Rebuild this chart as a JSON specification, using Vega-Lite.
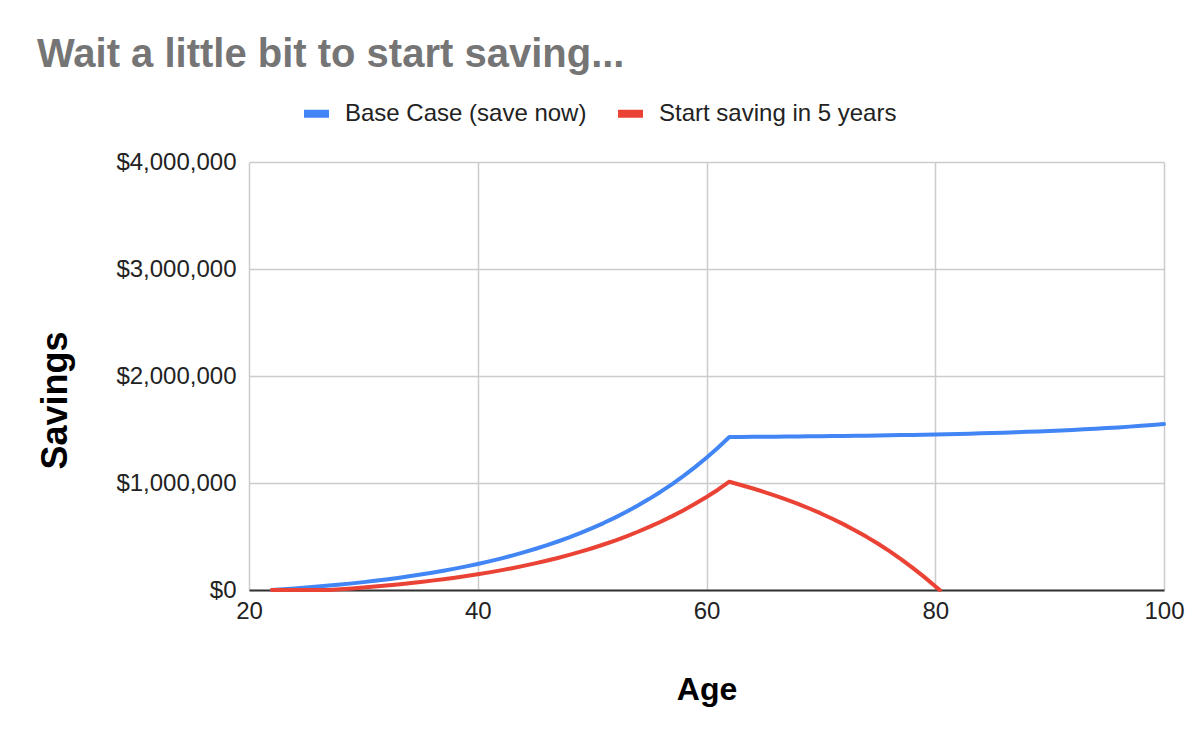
{
  "$schema": "https://vega.github.io/schema/vega-lite/v6.json",
  "width": 915,
  "height": 428,
  "autosize": {"type": "none"},
  "padding": {"left": 249, "top": 162, "right": 38, "bottom": 154},
  "background": "white",
  "config": {
    "view": {"stroke": null},
    "font": "Liberation Sans"
  },
  "title": {
    "text": "Wait a little bit to start saving...",
    "anchor": "start",
    "dx": 0,
    "offset": -10,
    "baseline": "alphabetic",
    "fontSize": 40,
    "fontWeight": "bold",
    "color": "#757575"
  },
  "data": {
    "values": [
      {"age": 22, "base": 0, "late": 0},
      {"age": 23, "base": 7200, "late": 0},
      {"age": 24, "base": 14800, "late": 0},
      {"age": 25, "base": 23000, "late": 0},
      {"age": 26, "base": 31800, "late": 0},
      {"age": 27, "base": 41200, "late": 0},
      {"age": 28, "base": 51200, "late": 7300},
      {"age": 29, "base": 62000, "late": 15100},
      {"age": 30, "base": 73500, "late": 23500},
      {"age": 31, "base": 85800, "late": 32400},
      {"age": 32, "base": 99000, "late": 42000},
      {"age": 33, "base": 113100, "late": 52300},
      {"age": 34, "base": 128100, "late": 63200},
      {"age": 35, "base": 144300, "late": 75000},
      {"age": 36, "base": 161500, "late": 87500},
      {"age": 37, "base": 180000, "late": 101000},
      {"age": 38, "base": 199700, "late": 115400},
      {"age": 39, "base": 220900, "late": 130700},
      {"age": 40, "base": 243500, "late": 147200},
      {"age": 41, "base": 267700, "late": 164800},
      {"age": 42, "base": 293600, "late": 183600},
      {"age": 43, "base": 321400, "late": 203800},
      {"age": 44, "base": 351000, "late": 225400},
      {"age": 45, "base": 382800, "late": 248500},
      {"age": 46, "base": 416700, "late": 273200},
      {"age": 47, "base": 453100, "late": 299600},
      {"age": 48, "base": 491900, "late": 327900},
      {"age": 49, "base": 533500, "late": 358100},
      {"age": 50, "base": 578000, "late": 390500},
      {"age": 51, "base": 625700, "late": 425200},
      {"age": 52, "base": 676600, "late": 462200},
      {"age": 53, "base": 731200, "late": 501900},
      {"age": 54, "base": 789500, "late": 544300},
      {"age": 55, "base": 851900, "late": 589700},
      {"age": 56, "base": 918700, "late": 638300},
      {"age": 57, "base": 990200, "late": 690300},
      {"age": 58, "base": 1066700, "late": 745900},
      {"age": 59, "base": 1148500, "late": 805500},
      {"age": 60, "base": 1236100, "late": 869200},
      {"age": 61, "base": 1329800, "late": 937300},
      {"age": 62, "base": 1430000, "late": 1012000},
      {"age": 63, "base": 1430700, "late": 981300},
      {"age": 64, "base": 1431100, "late": 950600},
      {"age": 65, "base": 1432300, "late": 917700},
      {"age": 66, "base": 1433100, "late": 882600},
      {"age": 67, "base": 1434000, "late": 844900},
      {"age": 68, "base": 1435000, "late": 804700},
      {"age": 69, "base": 1436100, "late": 761600},
      {"age": 70, "base": 1437200, "late": 715500},
      {"age": 71, "base": 1438400, "late": 666200},
      {"age": 72, "base": 1439700, "late": 613400},
      {"age": 73, "base": 1441000, "late": 557000},
      {"age": 74, "base": 1442500, "late": 496600},
      {"age": 75, "base": 1444100, "late": 431900},
      {"age": 76, "base": 1445800, "late": 362800},
      {"age": 77, "base": 1447600, "late": 288800},
      {"age": 78, "base": 1449500, "late": 209600},
      {"age": 79, "base": 1451600, "late": 124900},
      {"age": 80, "base": 1453800, "late": 34200},
      {"age": 80.4, "base": null, "late": 0},
      {"age": 81, "base": 1456200, "late": null},
      {"age": 82, "base": 1458700, "late": null},
      {"age": 83, "base": 1461400, "late": null},
      {"age": 84, "base": 1464300, "late": null},
      {"age": 85, "base": 1467400, "late": null},
      {"age": 86, "base": 1470700, "late": null},
      {"age": 87, "base": 1474300, "late": null},
      {"age": 88, "base": 1478100, "late": null},
      {"age": 89, "base": 1482100, "late": null},
      {"age": 90, "base": 1486500, "late": null},
      {"age": 91, "base": 1491100, "late": null},
      {"age": 92, "base": 1496100, "late": null},
      {"age": 93, "base": 1501500, "late": null},
      {"age": 94, "base": 1507200, "late": null},
      {"age": 95, "base": 1513300, "late": null},
      {"age": 96, "base": 1519800, "late": null},
      {"age": 97, "base": 1526900, "late": null},
      {"age": 98, "base": 1534400, "late": null},
      {"age": 99, "base": 1542400, "late": null},
      {"age": 100, "base": 1550800, "late": null}
    ]
  },
  "transform": [
    {"fold": ["base", "late"], "as": ["scenario", "savings"]},
    {"filter": "isValid(datum.savings)"}
  ],
  "mark": {"type": "line", "strokeWidth": 4, "strokeJoin": "round", "strokeCap": "round"},
  "encoding": {
    "x": {
      "field": "age",
      "type": "quantitative",
      "scale": {"domain": [20, 100], "nice": false, "zero": false},
      "axis": {
        "title": "Age",
        "values": [20, 40, 60, 80, 100],
        "ticks": false,
        "labelFontSize": 24,
        "labelColor": "#222222",
        "labelPadding": 9,
        "labelFlush": false,
        "domainColor": "#333333",
        "domainWidth": 2,
        "gridColor": "#cccccc",
        "gridWidth": 1.5,
        "titleFontSize": 32,
        "titleFontWeight": "bold",
        "titleColor": "#000000",
        "titleBaseline": "alphabetic",
        "titleY": 109
      }
    },
    "y": {
      "field": "savings",
      "type": "quantitative",
      "scale": {"domain": [0, 4000000], "nice": false},
      "axis": {
        "title": "Savings",
        "values": [0, 1000000, 2000000, 3000000, 4000000],
        "format": "$,.0f",
        "ticks": false,
        "domain": false,
        "labelFontSize": 24,
        "labelColor": "#222222",
        "labelPadding": 13,
        "gridColor": "#cccccc",
        "gridWidth": 1.5,
        "titleFontSize": 36,
        "titleFontWeight": "bold",
        "titleColor": "#000000",
        "titleBaseline": "middle",
        "titleX": -194,
        "titleY": 238
      }
    },
    "color": {
      "field": "scenario",
      "type": "nominal",
      "scale": {"domain": ["base", "late"], "range": ["#4285F4", "#EA4335"]},
      "legend": {
        "title": null,
        "orient": "none",
        "direction": "horizontal",
        "legendX": 51,
        "legendY": -65,
        "padding": 0,
        "labelExpr": "datum.value == 'base' ? 'Base Case (save now)' : 'Start saving in 5 years'",
        "labelFontSize": 24,
        "labelColor": "#222222",
        "labelOffset": 12,
        "labelLimit": 400,
        "columnPadding": 15,
        "symbolType": "stroke",
        "symbolSize": 625,
        "symbolStrokeWidth": 8,
        "symbolOpacity": 1
      }
    }
  }
}
